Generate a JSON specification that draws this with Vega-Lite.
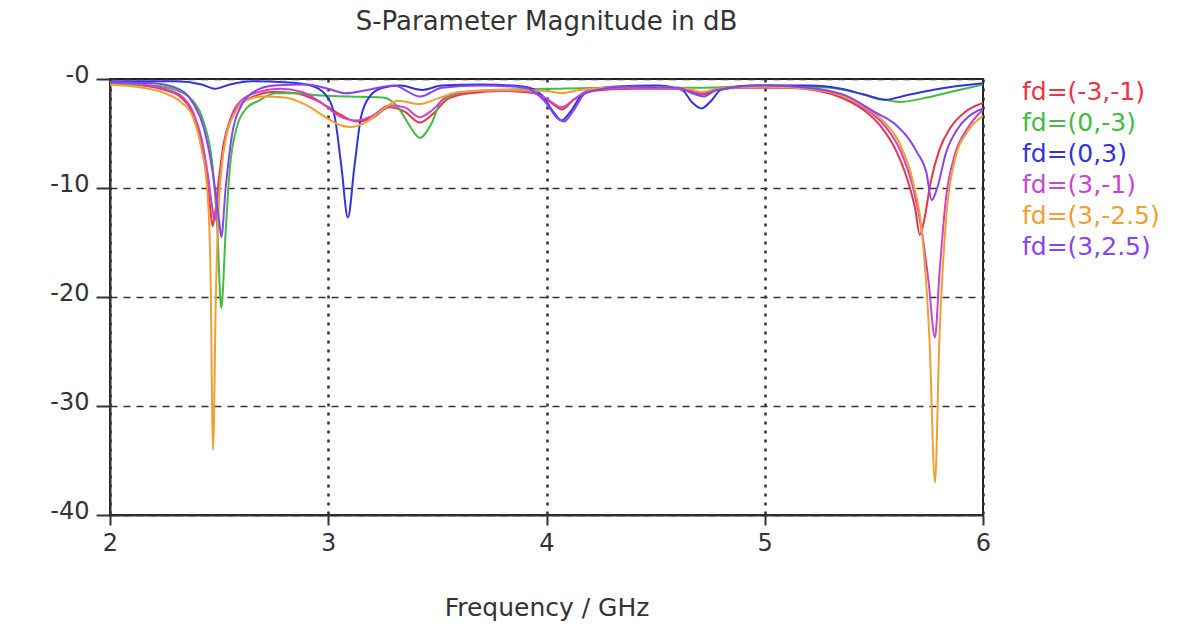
{
  "$schema": "https://vega.github.io/schema/vega-lite/v6.json",
  "width": 873,
  "height": 436,
  "autosize": {"type": "none"},
  "padding": {"left": 110, "top": 79, "right": 210, "bottom": 127},
  "background": "white",
  "config": {
    "font": "DejaVu Sans",
    "view": {"stroke": "#222", "strokeWidth": 2}
  },
  "title": {
    "text": "S-Parameter Magnitude in dB",
    "fontSize": 26,
    "fontWeight": "normal",
    "color": "#333",
    "font": "DejaVu Sans",
    "anchor": "middle",
    "offset": 28
  },
  "data": {
    "values": [
      {"s":"fd=(-3,-1)","f":2.0,"db":-0.4},{"s":"fd=(-3,-1)","f":2.15,"db":-0.6},{"s":"fd=(-3,-1)","f":2.25,"db":-1.0},{"s":"fd=(-3,-1)","f":2.32,"db":-1.6},{"s":"fd=(-3,-1)","f":2.37,"db":-2.8},{"s":"fd=(-3,-1)","f":2.41,"db":-5},{"s":"fd=(-3,-1)","f":2.44,"db":-8.5},{"s":"fd=(-3,-1)","f":2.46,"db":-12},{"s":"fd=(-3,-1)","f":2.47,"db":-13.5},{"s":"fd=(-3,-1)","f":2.48,"db":-12.5},{"s":"fd=(-3,-1)","f":2.5,"db":-9},{"s":"fd=(-3,-1)","f":2.52,"db":-6},{"s":"fd=(-3,-1)","f":2.55,"db":-3.8},{"s":"fd=(-3,-1)","f":2.6,"db":-2.3},{"s":"fd=(-3,-1)","f":2.66,"db":-1.6},{"s":"fd=(-3,-1)","f":2.75,"db":-1.2},{"s":"fd=(-3,-1)","f":2.85,"db":-1.3},{"s":"fd=(-3,-1)","f":2.95,"db":-2.0},{"s":"fd=(-3,-1)","f":3.05,"db":-3.2},{"s":"fd=(-3,-1)","f":3.13,"db":-3.9},{"s":"fd=(-3,-1)","f":3.2,"db":-3.6},{"s":"fd=(-3,-1)","f":3.28,"db":-2.6},{"s":"fd=(-3,-1)","f":3.35,"db":-3.0},{"s":"fd=(-3,-1)","f":3.42,"db":-4.0},{"s":"fd=(-3,-1)","f":3.48,"db":-3.2},{"s":"fd=(-3,-1)","f":3.55,"db":-1.8},{"s":"fd=(-3,-1)","f":3.65,"db":-1.3},{"s":"fd=(-3,-1)","f":3.8,"db":-1.1},{"s":"fd=(-3,-1)","f":3.95,"db":-1.3},{"s":"fd=(-3,-1)","f":4.03,"db":-2.3},{"s":"fd=(-3,-1)","f":4.07,"db":-2.8},{"s":"fd=(-3,-1)","f":4.12,"db":-2.0},{"s":"fd=(-3,-1)","f":4.2,"db":-1.1},{"s":"fd=(-3,-1)","f":4.4,"db":-0.9},{"s":"fd=(-3,-1)","f":4.6,"db":-0.9},{"s":"fd=(-3,-1)","f":4.68,"db":-1.3},{"s":"fd=(-3,-1)","f":4.72,"db":-1.4},{"s":"fd=(-3,-1)","f":4.78,"db":-1.0},{"s":"fd=(-3,-1)","f":4.9,"db":-0.8},{"s":"fd=(-3,-1)","f":5.1,"db":-0.8},{"s":"fd=(-3,-1)","f":5.25,"db":-1.1},{"s":"fd=(-3,-1)","f":5.35,"db":-1.7},{"s":"fd=(-3,-1)","f":5.45,"db":-2.8},{"s":"fd=(-3,-1)","f":5.53,"db":-4.3},{"s":"fd=(-3,-1)","f":5.6,"db":-6.5},{"s":"fd=(-3,-1)","f":5.65,"db":-9},{"s":"fd=(-3,-1)","f":5.69,"db":-12},{"s":"fd=(-3,-1)","f":5.71,"db":-14.3},{"s":"fd=(-3,-1)","f":5.73,"db":-13},{"s":"fd=(-3,-1)","f":5.76,"db":-9.5},{"s":"fd=(-3,-1)","f":5.8,"db":-6.5},{"s":"fd=(-3,-1)","f":5.85,"db":-4.5},{"s":"fd=(-3,-1)","f":5.92,"db":-3.0},{"s":"fd=(-3,-1)","f":6.0,"db":-2.2},

      {"s":"fd=(0,-3)","f":2.0,"db":-0.5},{"s":"fd=(0,-3)","f":2.2,"db":-0.6},{"s":"fd=(0,-3)","f":2.3,"db":-1.0},{"s":"fd=(0,-3)","f":2.38,"db":-2.0},{"s":"fd=(0,-3)","f":2.43,"db":-4},{"s":"fd=(0,-3)","f":2.47,"db":-8},{"s":"fd=(0,-3)","f":2.49,"db":-13},{"s":"fd=(0,-3)","f":2.51,"db":-21},{"s":"fd=(0,-3)","f":2.53,"db":-14},{"s":"fd=(0,-3)","f":2.55,"db":-8},{"s":"fd=(0,-3)","f":2.58,"db":-4.5},{"s":"fd=(0,-3)","f":2.62,"db":-2.8},{"s":"fd=(0,-3)","f":2.68,"db":-2.0},{"s":"fd=(0,-3)","f":2.76,"db":-1.3},{"s":"fd=(0,-3)","f":2.85,"db":-1.3},{"s":"fd=(0,-3)","f":2.95,"db":-1.5},{"s":"fd=(0,-3)","f":3.1,"db":-1.6},{"s":"fd=(0,-3)","f":3.25,"db":-1.7},{"s":"fd=(0,-3)","f":3.32,"db":-2.6},{"s":"fd=(0,-3)","f":3.37,"db":-4.2},{"s":"fd=(0,-3)","f":3.42,"db":-5.4},{"s":"fd=(0,-3)","f":3.47,"db":-4.2},{"s":"fd=(0,-3)","f":3.52,"db":-2.0},{"s":"fd=(0,-3)","f":3.6,"db":-1.3},{"s":"fd=(0,-3)","f":3.75,"db":-1.0},{"s":"fd=(0,-3)","f":4.0,"db":-0.9},{"s":"fd=(0,-3)","f":4.3,"db":-0.8},{"s":"fd=(0,-3)","f":4.7,"db":-0.8},{"s":"fd=(0,-3)","f":5.0,"db":-0.6},{"s":"fd=(0,-3)","f":5.3,"db":-0.8},{"s":"fd=(0,-3)","f":5.45,"db":-1.4},{"s":"fd=(0,-3)","f":5.55,"db":-1.9},{"s":"fd=(0,-3)","f":5.62,"db":-2.1},{"s":"fd=(0,-3)","f":5.72,"db":-1.8},{"s":"fd=(0,-3)","f":5.85,"db":-1.2},{"s":"fd=(0,-3)","f":6.0,"db":-0.5},

      {"s":"fd=(0,3)","f":2.0,"db":-0.2},{"s":"fd=(0,3)","f":2.3,"db":-0.2},{"s":"fd=(0,3)","f":2.42,"db":-0.5},{"s":"fd=(0,3)","f":2.48,"db":-0.9},{"s":"fd=(0,3)","f":2.55,"db":-0.5},{"s":"fd=(0,3)","f":2.65,"db":-0.2},{"s":"fd=(0,3)","f":2.8,"db":-0.3},{"s":"fd=(0,3)","f":2.92,"db":-0.6},{"s":"fd=(0,3)","f":2.99,"db":-1.5},{"s":"fd=(0,3)","f":3.03,"db":-3.5},{"s":"fd=(0,3)","f":3.06,"db":-8},{"s":"fd=(0,3)","f":3.09,"db":-12.7},{"s":"fd=(0,3)","f":3.12,"db":-8},{"s":"fd=(0,3)","f":3.15,"db":-3.5},{"s":"fd=(0,3)","f":3.19,"db":-1.6},{"s":"fd=(0,3)","f":3.25,"db":-0.8},{"s":"fd=(0,3)","f":3.33,"db":-0.6},{"s":"fd=(0,3)","f":3.43,"db":-1.0},{"s":"fd=(0,3)","f":3.52,"db":-0.6},{"s":"fd=(0,3)","f":3.7,"db":-0.5},{"s":"fd=(0,3)","f":3.9,"db":-0.7},{"s":"fd=(0,3)","f":3.98,"db":-1.5},{"s":"fd=(0,3)","f":4.03,"db":-3.0},{"s":"fd=(0,3)","f":4.07,"db":-3.8},{"s":"fd=(0,3)","f":4.11,"db":-3.0},{"s":"fd=(0,3)","f":4.17,"db":-1.3},{"s":"fd=(0,3)","f":4.3,"db":-0.7},{"s":"fd=(0,3)","f":4.5,"db":-0.6},{"s":"fd=(0,3)","f":4.62,"db":-1.0},{"s":"fd=(0,3)","f":4.67,"db":-2.2},{"s":"fd=(0,3)","f":4.71,"db":-2.7},{"s":"fd=(0,3)","f":4.75,"db":-2.1},{"s":"fd=(0,3)","f":4.8,"db":-1.0},{"s":"fd=(0,3)","f":4.95,"db":-0.6},{"s":"fd=(0,3)","f":5.2,"db":-0.6},{"s":"fd=(0,3)","f":5.35,"db":-0.9},{"s":"fd=(0,3)","f":5.45,"db":-1.4},{"s":"fd=(0,3)","f":5.55,"db":-1.9},{"s":"fd=(0,3)","f":5.65,"db":-1.5},{"s":"fd=(0,3)","f":5.8,"db":-0.9},{"s":"fd=(0,3)","f":6.0,"db":-0.4},

      {"s":"fd=(3,-1)","f":2.0,"db":-0.3},{"s":"fd=(3,-1)","f":2.15,"db":-0.5},{"s":"fd=(3,-1)","f":2.25,"db":-0.9},{"s":"fd=(3,-1)","f":2.33,"db":-1.6},{"s":"fd=(3,-1)","f":2.38,"db":-3},{"s":"fd=(3,-1)","f":2.42,"db":-5.5},{"s":"fd=(3,-1)","f":2.45,"db":-9},{"s":"fd=(3,-1)","f":2.47,"db":-12},{"s":"fd=(3,-1)","f":2.48,"db":-13},{"s":"fd=(3,-1)","f":2.5,"db":-10},{"s":"fd=(3,-1)","f":2.52,"db":-6.5},{"s":"fd=(3,-1)","f":2.55,"db":-3.8},{"s":"fd=(3,-1)","f":2.6,"db":-2.0},{"s":"fd=(3,-1)","f":2.68,"db":-1.2},{"s":"fd=(3,-1)","f":2.78,"db":-0.9},{"s":"fd=(3,-1)","f":2.88,"db":-1.2},{"s":"fd=(3,-1)","f":2.97,"db":-2.2},{"s":"fd=(3,-1)","f":3.05,"db":-3.4},{"s":"fd=(3,-1)","f":3.13,"db":-3.8},{"s":"fd=(3,-1)","f":3.2,"db":-3.4},{"s":"fd=(3,-1)","f":3.28,"db":-2.4},{"s":"fd=(3,-1)","f":3.35,"db":-2.6},{"s":"fd=(3,-1)","f":3.42,"db":-3.5},{"s":"fd=(3,-1)","f":3.48,"db":-2.8},{"s":"fd=(3,-1)","f":3.55,"db":-1.5},{"s":"fd=(3,-1)","f":3.7,"db":-1.1},{"s":"fd=(3,-1)","f":3.9,"db":-1.1},{"s":"fd=(3,-1)","f":4.0,"db":-1.8},{"s":"fd=(3,-1)","f":4.07,"db":-2.6},{"s":"fd=(3,-1)","f":4.13,"db":-1.8},{"s":"fd=(3,-1)","f":4.2,"db":-1.0},{"s":"fd=(3,-1)","f":4.45,"db":-0.8},{"s":"fd=(3,-1)","f":4.65,"db":-1.0},{"s":"fd=(3,-1)","f":4.71,"db":-1.3},{"s":"fd=(3,-1)","f":4.78,"db":-0.9},{"s":"fd=(3,-1)","f":5.0,"db":-0.7},{"s":"fd=(3,-1)","f":5.2,"db":-0.9},{"s":"fd=(3,-1)","f":5.35,"db":-1.5},{"s":"fd=(3,-1)","f":5.45,"db":-2.6},{"s":"fd=(3,-1)","f":5.55,"db":-4.3},{"s":"fd=(3,-1)","f":5.62,"db":-6.5},{"s":"fd=(3,-1)","f":5.68,"db":-10},{"s":"fd=(3,-1)","f":5.72,"db":-14},{"s":"fd=(3,-1)","f":5.75,"db":-18.5},{"s":"fd=(3,-1)","f":5.78,"db":-23.7},{"s":"fd=(3,-1)","f":5.8,"db":-18},{"s":"fd=(3,-1)","f":5.83,"db":-11},{"s":"fd=(3,-1)","f":5.87,"db":-7},{"s":"fd=(3,-1)","f":5.93,"db":-4.5},{"s":"fd=(3,-1)","f":6.0,"db":-2.8},

      {"s":"fd=(3,-2.5)","f":2.0,"db":-0.5},{"s":"fd=(3,-2.5)","f":2.15,"db":-0.8},{"s":"fd=(3,-2.5)","f":2.25,"db":-1.3},{"s":"fd=(3,-2.5)","f":2.33,"db":-2.2},{"s":"fd=(3,-2.5)","f":2.38,"db":-3.5},{"s":"fd=(3,-2.5)","f":2.42,"db":-6.5},{"s":"fd=(3,-2.5)","f":2.445,"db":-10},{"s":"fd=(3,-2.5)","f":2.46,"db":-17},{"s":"fd=(3,-2.5)","f":2.472,"db":-34},{"s":"fd=(3,-2.5)","f":2.485,"db":-20},{"s":"fd=(3,-2.5)","f":2.5,"db":-11},{"s":"fd=(3,-2.5)","f":2.53,"db":-5.5},{"s":"fd=(3,-2.5)","f":2.57,"db":-3.2},{"s":"fd=(3,-2.5)","f":2.62,"db":-2.0},{"s":"fd=(3,-2.5)","f":2.7,"db":-1.6},{"s":"fd=(3,-2.5)","f":2.8,"db":-1.7},{"s":"fd=(3,-2.5)","f":2.9,"db":-2.4},{"s":"fd=(3,-2.5)","f":2.98,"db":-3.4},{"s":"fd=(3,-2.5)","f":3.05,"db":-4.2},{"s":"fd=(3,-2.5)","f":3.1,"db":-4.4},{"s":"fd=(3,-2.5)","f":3.17,"db":-4.0},{"s":"fd=(3,-2.5)","f":3.25,"db":-2.8},{"s":"fd=(3,-2.5)","f":3.32,"db":-2.0},{"s":"fd=(3,-2.5)","f":3.42,"db":-2.3},{"s":"fd=(3,-2.5)","f":3.5,"db":-1.8},{"s":"fd=(3,-2.5)","f":3.6,"db":-1.2},{"s":"fd=(3,-2.5)","f":3.8,"db":-1.0},{"s":"fd=(3,-2.5)","f":4.0,"db":-1.1},{"s":"fd=(3,-2.5)","f":4.07,"db":-1.3},{"s":"fd=(3,-2.5)","f":4.15,"db":-1.0},{"s":"fd=(3,-2.5)","f":4.4,"db":-0.7},{"s":"fd=(3,-2.5)","f":4.65,"db":-0.9},{"s":"fd=(3,-2.5)","f":4.71,"db":-1.2},{"s":"fd=(3,-2.5)","f":4.78,"db":-0.9},{"s":"fd=(3,-2.5)","f":5.0,"db":-0.7},{"s":"fd=(3,-2.5)","f":5.2,"db":-0.9},{"s":"fd=(3,-2.5)","f":5.35,"db":-1.5},{"s":"fd=(3,-2.5)","f":5.45,"db":-2.5},{"s":"fd=(3,-2.5)","f":5.55,"db":-4},{"s":"fd=(3,-2.5)","f":5.62,"db":-6},{"s":"fd=(3,-2.5)","f":5.68,"db":-9.5},{"s":"fd=(3,-2.5)","f":5.72,"db":-14},{"s":"fd=(3,-2.5)","f":5.755,"db":-24},{"s":"fd=(3,-2.5)","f":5.78,"db":-37},{"s":"fd=(3,-2.5)","f":5.8,"db":-24},{"s":"fd=(3,-2.5)","f":5.83,"db":-13},{"s":"fd=(3,-2.5)","f":5.87,"db":-7.5},{"s":"fd=(3,-2.5)","f":5.93,"db":-4.8},{"s":"fd=(3,-2.5)","f":6.0,"db":-3.4},

      {"s":"fd=(3,2.5)","f":2.0,"db":-0.3},{"s":"fd=(3,2.5)","f":2.2,"db":-0.4},{"s":"fd=(3,2.5)","f":2.3,"db":-0.8},{"s":"fd=(3,2.5)","f":2.38,"db":-2.2},{"s":"fd=(3,2.5)","f":2.43,"db":-4.5},{"s":"fd=(3,2.5)","f":2.47,"db":-8.5},{"s":"fd=(3,2.5)","f":2.5,"db":-13},{"s":"fd=(3,2.5)","f":2.51,"db":-14.5},{"s":"fd=(3,2.5)","f":2.53,"db":-10},{"s":"fd=(3,2.5)","f":2.56,"db":-5},{"s":"fd=(3,2.5)","f":2.6,"db":-2.5},{"s":"fd=(3,2.5)","f":2.65,"db":-1.3},{"s":"fd=(3,2.5)","f":2.75,"db":-0.6},{"s":"fd=(3,2.5)","f":2.9,"db":-0.5},{"s":"fd=(3,2.5)","f":3.0,"db":-0.9},{"s":"fd=(3,2.5)","f":3.08,"db":-1.3},{"s":"fd=(3,2.5)","f":3.18,"db":-1.0},{"s":"fd=(3,2.5)","f":3.3,"db":-0.6},{"s":"fd=(3,2.5)","f":3.42,"db":-1.6},{"s":"fd=(3,2.5)","f":3.52,"db":-0.8},{"s":"fd=(3,2.5)","f":3.7,"db":-0.6},{"s":"fd=(3,2.5)","f":3.9,"db":-0.8},{"s":"fd=(3,2.5)","f":3.99,"db":-2.0},{"s":"fd=(3,2.5)","f":4.05,"db":-3.6},{"s":"fd=(3,2.5)","f":4.08,"db":-3.9},{"s":"fd=(3,2.5)","f":4.12,"db":-3.0},{"s":"fd=(3,2.5)","f":4.18,"db":-1.3},{"s":"fd=(3,2.5)","f":4.35,"db":-0.7},{"s":"fd=(3,2.5)","f":4.6,"db":-0.8},{"s":"fd=(3,2.5)","f":4.68,"db":-1.4},{"s":"fd=(3,2.5)","f":4.72,"db":-1.6},{"s":"fd=(3,2.5)","f":4.78,"db":-1.0},{"s":"fd=(3,2.5)","f":5.0,"db":-0.6},{"s":"fd=(3,2.5)","f":5.2,"db":-0.8},{"s":"fd=(3,2.5)","f":5.38,"db":-1.6},{"s":"fd=(3,2.5)","f":5.5,"db":-3.0},{"s":"fd=(3,2.5)","f":5.6,"db":-4.2},{"s":"fd=(3,2.5)","f":5.66,"db":-5.5},{"s":"fd=(3,2.5)","f":5.7,"db":-6.8},{"s":"fd=(3,2.5)","f":5.74,"db":-8.5},{"s":"fd=(3,2.5)","f":5.765,"db":-11.1},{"s":"fd=(3,2.5)","f":5.79,"db":-10},{"s":"fd=(3,2.5)","f":5.83,"db":-6.8},{"s":"fd=(3,2.5)","f":5.89,"db":-4.4},{"s":"fd=(3,2.5)","f":5.95,"db":-3.2},{"s":"fd=(3,2.5)","f":6.0,"db":-2.7}
    ]
  },
  "mark": {"type": "line", "strokeWidth": 2, "interpolate": "monotone", "clip": true},
  "encoding": {
    "x": {
      "field": "f",
      "type": "quantitative",
      "scale": {"domain": [2, 6], "nice": false, "zero": false},
      "axis": {
        "values": [2, 3, 4, 5, 6],
        "title": "Frequency / GHz",
        "titleFont": "DejaVu Sans",
        "titleFontSize": 25,
        "titleFontWeight": "normal",
        "titleColor": "#333",
        "titlePadding": 40,
        "labelFont": "DejaVu Sans",
        "labelFontSize": 24,
        "labelColor": "#333",
        "labelPadding": 6,
        "labelFlush": false,
        "tickSize": 10,
        "tickWidth": 2,
        "tickColor": "#333",
        "domainColor": "#333",
        "domainWidth": 2,
        "grid": true,
        "gridColor": "#333",
        "gridDash": [3, 6],
        "gridWidth": 2.5
      }
    },
    "y": {
      "field": "db",
      "type": "quantitative",
      "scale": {"domain": [-40, 0], "nice": false},
      "axis": {
        "values": [0, -10, -20, -30, -40],
        "title": null,
        "labelExpr": "'-' + abs(datum.value)",
        "labelFont": "DejaVu Sans",
        "labelFontSize": 24,
        "labelColor": "#333",
        "labelPadding": 7,
        "labelOffset": -4,
        "tickSize": 14,
        "tickWidth": 2,
        "tickColor": "#333",
        "domainColor": "#333",
        "domainWidth": 2,
        "grid": true,
        "gridColor": "#333",
        "gridDash": [7, 6],
        "gridWidth": 1.5
      }
    },
    "color": {
      "field": "s",
      "type": "nominal",
      "scale": {
        "domain": ["fd=(-3,-1)", "fd=(0,-3)", "fd=(0,3)", "fd=(3,-1)", "fd=(3,-2.5)", "fd=(3,2.5)"],
        "range": ["#ee3344", "#44bb44", "#3333dd", "#cc44cc", "#f0a030", "#8844ee"]
      },
      "legend": {
        "title": null,
        "orient": "right",
        "offset": 14,
        "symbolSize": 0,
        "symbolOpacity": 0,
        "symbolStrokeWidth": 0,
        "labelOffset": 0,
        "labelFont": "DejaVu Sans",
        "labelFontSize": 25,
        "labelLimit": 300,
        "rowPadding": 5,
        "labelColor": {"expr": "scale('color', datum.value)"}
      }
    }
  }
}
